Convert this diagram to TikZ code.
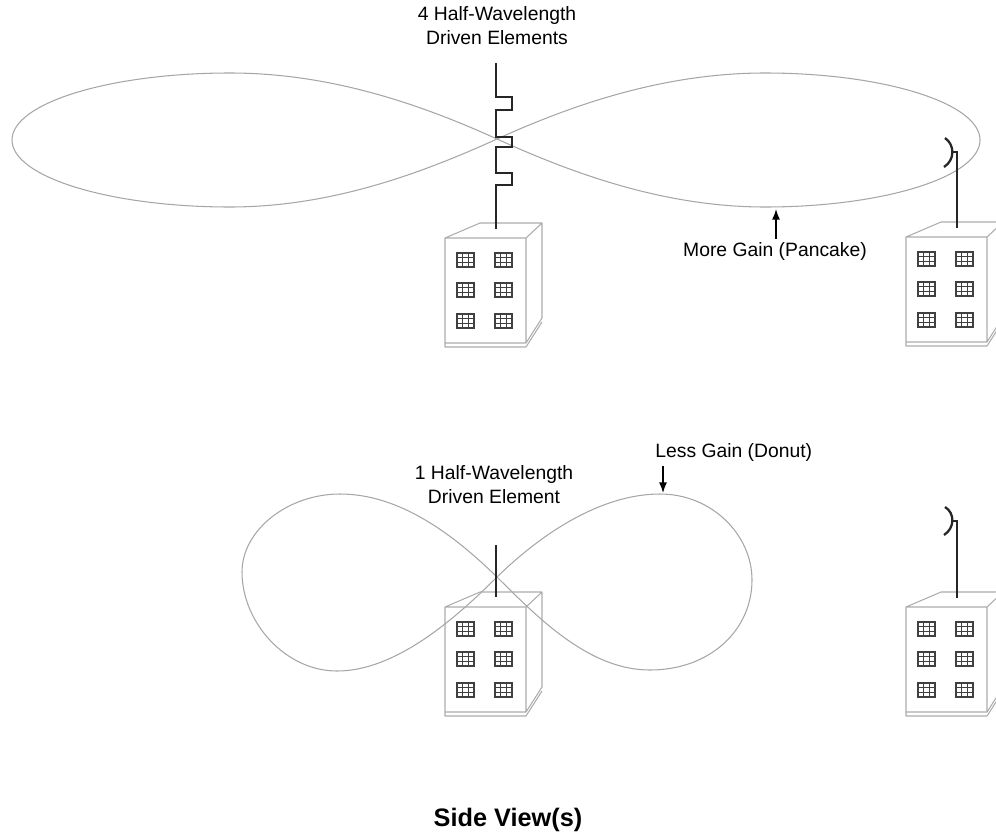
\documentclass[tikz,border=0pt]{standalone}
\usepackage{fontspec}
\setmainfont{Liberation Sans}
\usetikzlibrary{arrows.meta}

\tikzset{
  lobe/.style={draw=gray!70, line width=0.6pt},
  mast/.style={draw=black!85, line width=1.3pt},
  label/.style={font=\fontsize{11}{13.6}\selectfont, align=center, inner sep=0pt},
  pointer/.style={-{Latex[length=6pt,width=4.5pt]}, line width=0.8pt},
  windowbox/.style={draw=black!75, line width=0.7pt},
  building/.pic={
    \draw[gray!65, line width=0.6pt, line join=round]
      (0,0) rectangle (81,105)
      (0,0) -- (35,-15) -- (97,-15) -- (81,0)
      (97,-15) -- (97,80) -- (81,105)
      (0,105) -- (0,109) -- (81,109) -- (97,84);
    \foreach \wx in {12,50}
      \foreach \wy in {15,45,76} {
        \draw[windowbox] (\wx,\wy) rectangle ++(17,14);
        \draw[windowbox, line width=0.4pt]
          (\wx+5.7,\wy) -- ++(0,14) (\wx+11.3,\wy) -- ++(0,14)
          (\wx,\wy+4.7) -- ++(17,0) (\wx,\wy+9.3) -- ++(17,0);
      }
  }
}

\begin{document}
\begin{tikzpicture}[x=0.02cm, y=-0.02cm]
  \useasboundingbox (0,0) rectangle (996,835);
  \clip (0,0) rectangle (996,835);

  % buildings
  \pic at (445,238) {building};
  \pic at (906,237) {building};
  \pic at (445,607) {building};
  \pic at (906,607) {building};

  % pancake pattern of the stacked array
  \coordinate (top) at (497,139);
  \draw[lobe] (top) .. controls (420,104) and (330,73) .. (230,73)
    .. controls (110,73) and (12,103) .. (12,140)
    .. controls (12,177) and (110,207) .. (230,207)
    .. controls (330,207) and (420,174) .. (top);
  \draw[lobe] (top) .. controls (574,104) and (665,73) .. (765,73)
    .. controls (883,73) and (980,103) .. (980,140)
    .. controls (980,177) and (883,207) .. (765,207)
    .. controls (665,207) and (574,174) .. (top);

  % donut pattern of the single dipole
  \coordinate (bot) at (497,577);
  \draw[lobe] (bot) .. controls (454,535) and (400,494) .. (340,494)
    .. controls (288,494) and (242,530) .. (242,572)
    .. controls (242,622) and (285,671) .. (337,671)
    .. controls (395,671) and (454,620) .. (bot);
  \draw[lobe] (bot) .. controls (540,535) and (600,494) .. (660,494)
    .. controls (712,494) and (752,535) .. (752,580)
    .. controls (752,630) and (710,670) .. (650,670)
    .. controls (590,670) and (540,620) .. (bot);

  % antennas
  \draw[mast] (496,63) -- (496,97) -- (512,97) -- (512,110) -- (496,110)
    -- (496,137) -- (512,137) -- (512,147) -- (496,147)
    -- (496,173) -- (512,173) -- (512,185) -- (496,185) -- (496,229);
  \draw[mast] (496,545) -- (496,597);
  \draw[mast] (951,152) -- (957,152) -- (957,228);
  \draw[mast] (945,138) .. controls (955,145) and (955,160) .. (944,167);
  \draw[mast] (951,521) -- (957,521) -- (957,598);
  \draw[mast] (945,507) .. controls (955,513) and (955,528) .. (944,535);

  % labels
  \node[label] (array) at (497,26) {4 Half-Wavelength\\Driven Elements};
  \node[label] (dipole) at (494,485) {1 Half-Wavelength\\Driven Element};
  \node[label] (moregain) at (775,251) {More Gain (Pancake)};
  \node[label, anchor=west] (lessgain) at (655,452) {Less Gain (Donut)};
  \node[font=\fontsize{14.4}{16}\selectfont\bfseries, inner sep=0pt] (title) at (508,820) {Side View(s)};

  \coordinate (pancaketip) at (776,209);
  \coordinate (donuttip) at (663,493);
  \draw[pointer] (moregain.north -| pancaketip) ++(0,-3) -- (pancaketip);
  \draw[pointer] (lessgain.south -| donuttip) ++(0,5) -- (donuttip);
\end{tikzpicture}
\end{document}
